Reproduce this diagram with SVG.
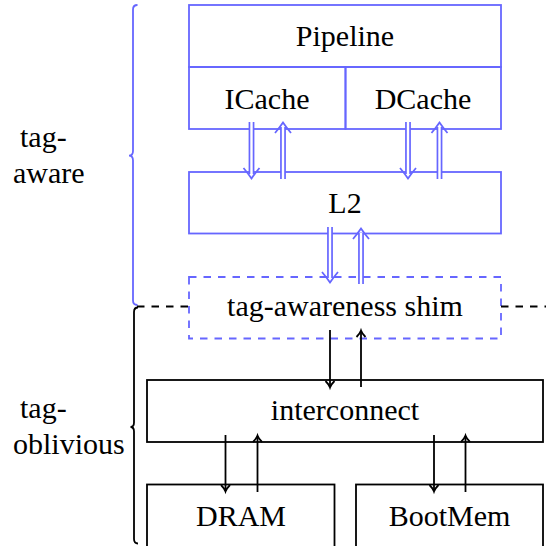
<svg xmlns="http://www.w3.org/2000/svg" width="546" height="546" viewBox="0 0 546 546">
  <style>
    .bl { stroke: #6666ff; fill: none; stroke-width: 1.8; }
    .bk { stroke: #000; fill: none; stroke-width: 1.8; }
    .dash { stroke-dasharray: 7.5 7; }
    .dbl-o { stroke: #6666ff; stroke-width: 5.8; fill: none; }
    .dbl-i { stroke: #fff; stroke-width: 2.4; fill: none; }
    .c { text-anchor: middle; }
  </style>
  <rect width="546" height="546" fill="#fff"/>

  <!-- tag-aware region -->
  <g id="pipeline">
    <rect class="bl" x="189" y="5" width="312" height="62"/>
    <text class="c" style="font-family:'Liberation Serif',serif;font-size:30px" x="345" y="46">Pipeline</text>
  </g>
  <g id="icache">
    <rect class="bl" x="189" y="67" width="156.5" height="62"/>
    <text class="c" style="font-family:'Liberation Serif',serif;font-size:30px" x="267" y="109">ICache</text>
  </g>
  <g id="dcache">
    <rect class="bl" x="345.5" y="67" width="155.5" height="62"/>
    <text class="c" style="font-family:'Liberation Serif',serif;font-size:30px" x="423" y="109">DCache</text>
  </g>
  <g id="l2">
    <rect class="bl" x="189" y="172" width="312" height="61.5"/>
    <text class="c" style="font-family:'Liberation Serif',serif;font-size:30px" x="345" y="213">L2</text>
  </g>
  <g id="shim">
    <rect class="bl dash" x="189" y="277" width="312" height="61.5"/>
    <text class="c" style="font-family:'Liberation Serif',serif;font-size:30px" x="345" y="316">tag-awareness shim</text>
  </g>

  <!-- tag-oblivious region -->
  <g id="interconnect">
    <rect class="bk" x="147" y="380" width="396" height="62"/>
    <text class="c" style="font-family:'Liberation Serif',serif;font-size:30px" x="345" y="420">interconnect</text>
  </g>
  <g id="dram">
    <rect class="bk" x="147" y="484.5" width="187.5" height="80"/>
    <text class="c" style="font-family:'Liberation Serif',serif;font-size:30px" x="241" y="526">DRAM</text>
  </g>
  <g id="bootmem">
    <rect class="bk" x="356" y="484.5" width="187" height="80"/>
    <text class="c" style="font-family:'Liberation Serif',serif;font-size:30px" x="449.5" y="526">BootMem</text>
  </g>

  <!-- braces and region labels -->
  <g id="brace-aware">
    <path class="bl" d="M137.5 5 Q133 5 133 9.5 L133 151 Q133 155.7 129 155.7 Q133 155.7 133 160.4 L133 300.5 Q133 305 137.5 305"/>
    <text style="font-family:'Liberation Serif',serif;font-size:30px" x="20" y="147">tag-</text>
    <text style="font-family:'Liberation Serif',serif;font-size:30px" x="13" y="183">aware</text>
  </g>
  <g id="brace-oblivious">
    <path class="bk" d="M138 307.5 Q134 307.5 134 312 L134 422.5 Q134 427 130.5 427 Q134 427 134 431.5 L134 539 Q134 543.5 138 543.5"/>
    <text style="font-family:'Liberation Serif',serif;font-size:30px" x="20" y="418">tag-</text>
    <text style="font-family:'Liberation Serif',serif;font-size:30px" x="13" y="454">oblivious</text>
  </g>

  <!-- connectors -->
  <g id="connectors">
    <!-- boundary between the two regions -->
    <path class="bk dash" d="M137 306.5 H189"/>
    <path class="bk dash" d="M501 306.5 H546"/>

    <!-- ICache <-> L2 -->
    <path class="dbl-o" d="M251.5 122 V174"/><path class="dbl-i" d="M251.5 122 V174"/>
    <path class="bl" d="M243.5 168 Q248.5 174 251.5 178.5 Q254.5 174 259.5 168"/>
    <path class="dbl-o" d="M283 179 V127"/><path class="dbl-i" d="M283 179 V127"/>
    <path class="bl" d="M275 133 Q280 127 283 122.5 Q286 127 291 133"/>

    <!-- DCache <-> L2 -->
    <path class="dbl-o" d="M408 122 V174"/><path class="dbl-i" d="M408 122 V174"/>
    <path class="bl" d="M400 168 Q405 174 408 178.5 Q411 174 416 168"/>
    <path class="dbl-o" d="M439.5 179 V127"/><path class="dbl-i" d="M439.5 179 V127"/>
    <path class="bl" d="M431.5 133 Q436.5 127 439.5 122.5 Q442.5 127 447.5 133"/>

    <!-- L2 <-> shim -->
    <path class="dbl-o" d="M330 227 V278"/><path class="dbl-i" d="M330 227 V278"/>
    <path class="bl" d="M322 272 Q327 278 330 282.5 Q333 278 338 272"/>
    <path class="dbl-o" d="M361 284 V233"/><path class="dbl-i" d="M361 284 V233"/>
    <path class="bl" d="M353 239 Q358 233 361 228.5 Q364 233 369 239"/>

    <!-- shim <-> interconnect -->
    <path class="bk" d="M330 330 V386.5"/>
    <path class="bk" d="M325.5 381 Q329 384.5 330 387.5 Q331 384.5 334.5 381"/>
    <path class="bk" d="M361 387 V331.5"/>
    <path class="bk" d="M356.5 337 Q360 333.5 361 330.5 Q362 333.5 365.5 337"/>

    <!-- interconnect <-> DRAM -->
    <path class="bk" d="M225.5 435 V490.5"/>
    <path class="bk" d="M221 485 Q224.5 488.5 225.5 491.5 Q226.5 488.5 230 485"/>
    <path class="bk" d="M257.5 492 V436.5"/>
    <path class="bk" d="M253 442 Q256.5 438.5 257.5 435.5 Q258.5 438.5 262 442"/>

    <!-- interconnect <-> BootMem -->
    <path class="bk" d="M434 435 V490.5"/>
    <path class="bk" d="M429.5 485 Q433 488.5 434 491.5 Q435 488.5 438.5 485"/>
    <path class="bk" d="M465.5 492 V436.5"/>
    <path class="bk" d="M461 442 Q464.5 438.5 465.5 435.5 Q466.5 438.5 470 442"/>
  </g>
</svg>
